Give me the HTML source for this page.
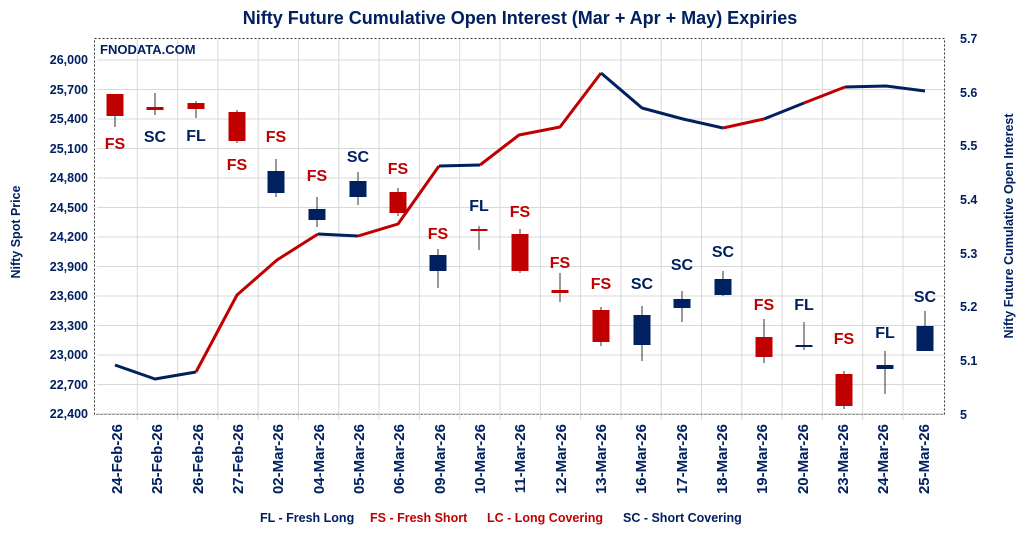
<!DOCTYPE html>
<html><head><style>body{margin:0;background:#fff}svg{display:block;font-family:"Liberation Sans",Calibri,sans-serif}</style></head><body>
<svg width="1024" height="534" xmlns="http://www.w3.org/2000/svg">
<rect width="1024" height="534" fill="#fff"/>
<text x="520" y="24" text-anchor="middle" font-size="18" font-weight="bold" fill="#002060">Nifty Future Cumulative Open Interest (Mar + Apr + May) Expiries</text>
<g stroke="#d9d9d9" stroke-width="1">
<line x1="97" y1="60" x2="944" y2="60"/><line x1="97" y1="89.5" x2="944" y2="89.5"/><line x1="97" y1="119" x2="944" y2="119"/><line x1="97" y1="148.5" x2="944" y2="148.5"/><line x1="97" y1="178" x2="944" y2="178"/><line x1="97" y1="207.5" x2="944" y2="207.5"/><line x1="97" y1="237" x2="944" y2="237"/><line x1="97" y1="266.5" x2="944" y2="266.5"/><line x1="97" y1="296" x2="944" y2="296"/><line x1="97" y1="325.5" x2="944" y2="325.5"/><line x1="97" y1="355" x2="944" y2="355"/><line x1="97" y1="384.5" x2="944" y2="384.5"/>
<line x1="137.3" y1="38" x2="137.3" y2="420"/><line x1="177.6" y1="38" x2="177.6" y2="420"/><line x1="217.9" y1="38" x2="217.9" y2="420"/><line x1="258.2" y1="38" x2="258.2" y2="420"/><line x1="298.5" y1="38" x2="298.5" y2="420"/><line x1="338.8" y1="38" x2="338.8" y2="420"/><line x1="379.1" y1="38" x2="379.1" y2="420"/><line x1="419.4" y1="38" x2="419.4" y2="420"/><line x1="459.7" y1="38" x2="459.7" y2="420"/><line x1="500" y1="38" x2="500" y2="420"/><line x1="540.3" y1="38" x2="540.3" y2="420"/><line x1="580.6" y1="38" x2="580.6" y2="420"/><line x1="620.9" y1="38" x2="620.9" y2="420"/><line x1="661.2" y1="38" x2="661.2" y2="420"/><line x1="701.5" y1="38" x2="701.5" y2="420"/><line x1="741.8" y1="38" x2="741.8" y2="420"/><line x1="782.1" y1="38" x2="782.1" y2="420"/><line x1="822.4" y1="38" x2="822.4" y2="420"/><line x1="862.7" y1="38" x2="862.7" y2="420"/><line x1="903" y1="38" x2="903" y2="420"/>
</g>
<rect x="94.5" y="38.5" width="850" height="376" fill="none" stroke="#333" stroke-dasharray="2,2" stroke-width="1"/>
<line x1="97" y1="414" x2="944" y2="414" stroke="#bfbfbf"/>
<text x="100" y="54" font-size="13" font-weight="bold" fill="#002060">FNODATA.COM</text>
<g font-size="12.5" font-weight="bold" fill="#002060" text-anchor="end">
<text x="88" y="64">26,000</text><text x="88" y="94">25,700</text><text x="88" y="123">25,400</text><text x="88" y="153">25,100</text><text x="88" y="182">24,800</text><text x="88" y="212">24,500</text><text x="88" y="241">24,200</text><text x="88" y="271">23,900</text><text x="88" y="300">23,600</text><text x="88" y="330">23,300</text><text x="88" y="359">23,000</text><text x="88" y="389">22,700</text><text x="88" y="418">22,400</text>
</g>
<g font-size="12.5" font-weight="bold" fill="#002060">
<text x="960" y="43">5.7</text><text x="960" y="97">5.6</text><text x="960" y="150">5.5</text><text x="960" y="204">5.4</text><text x="960" y="258">5.3</text><text x="960" y="311">5.2</text><text x="960" y="365">5.1</text><text x="960" y="419">5</text>
</g>
<text transform="translate(20,232) rotate(-90)" text-anchor="middle" font-size="12.5" font-weight="bold" fill="#002060">Nifty Spot Price</text>
<text transform="translate(1013,226) rotate(-90)" text-anchor="middle" font-size="12.5" font-weight="bold" fill="#002060">Nifty Future Cumulative Open Interest</text>
<g font-size="15" font-weight="bold" fill="#002060" text-anchor="end">
<text transform="translate(122,424) rotate(-90)">24-Feb-26</text><text transform="translate(162,424) rotate(-90)">25-Feb-26</text><text transform="translate(203,424) rotate(-90)">26-Feb-26</text><text transform="translate(243,424) rotate(-90)">27-Feb-26</text><text transform="translate(283,424) rotate(-90)">02-Mar-26</text><text transform="translate(324,424) rotate(-90)">04-Mar-26</text><text transform="translate(364,424) rotate(-90)">05-Mar-26</text><text transform="translate(404,424) rotate(-90)">06-Mar-26</text><text transform="translate(445,424) rotate(-90)">09-Mar-26</text><text transform="translate(485,424) rotate(-90)">10-Mar-26</text><text transform="translate(525,424) rotate(-90)">11-Mar-26</text><text transform="translate(566,424) rotate(-90)">12-Mar-26</text><text transform="translate(606,424) rotate(-90)">13-Mar-26</text><text transform="translate(646,424) rotate(-90)">16-Mar-26</text><text transform="translate(687,424) rotate(-90)">17-Mar-26</text><text transform="translate(727,424) rotate(-90)">18-Mar-26</text><text transform="translate(767,424) rotate(-90)">19-Mar-26</text><text transform="translate(808,424) rotate(-90)">20-Mar-26</text><text transform="translate(848,424) rotate(-90)">23-Mar-26</text><text transform="translate(888,424) rotate(-90)">24-Mar-26</text><text transform="translate(929,424) rotate(-90)">25-Mar-26</text>
</g>
<g stroke-width="3" fill="none" stroke-linejoin="round">
<polyline points="115,365 155,379 196,372" stroke="#002060"/>
<polyline points="196,372 237,295 277,260 318,234" stroke="#C00000"/>
<polyline points="318,234 358,236" stroke="#002060"/>
<polyline points="358,236 398,224 439,166" stroke="#C00000"/>
<polyline points="439,166 480,165" stroke="#002060"/>
<polyline points="480,165 519,135 560,127 601,73" stroke="#C00000"/>
<polyline points="601,73 642,108 683,119 723,128" stroke="#002060"/>
<polyline points="723,128 764,119" stroke="#C00000"/>
<polyline points="764,119 804,103" stroke="#002060"/>
<polyline points="804,103 845,87" stroke="#C00000"/>
<polyline points="845,87 886,86 925,91" stroke="#002060"/>
</g>
<g stroke="#333" stroke-width="1">
<line x1="115" y1="94" x2="115" y2="127"/><line x1="155" y1="93" x2="155" y2="115"/><line x1="196" y1="101" x2="196" y2="118"/><line x1="237" y1="110" x2="237" y2="143"/><line x1="276" y1="159" x2="276" y2="197"/><line x1="317" y1="197" x2="317" y2="227"/><line x1="358" y1="172" x2="358" y2="205"/><line x1="398" y1="188" x2="398" y2="216"/><line x1="438" y1="249" x2="438" y2="288"/><line x1="479" y1="226" x2="479" y2="250"/><line x1="520" y1="229" x2="520" y2="273"/><line x1="560" y1="273" x2="560" y2="302"/><line x1="601" y1="307" x2="601" y2="346"/><line x1="642" y1="306" x2="642" y2="361"/><line x1="682" y1="291" x2="682" y2="322"/><line x1="723" y1="271" x2="723" y2="296"/><line x1="764" y1="319" x2="764" y2="363"/><line x1="804" y1="322" x2="804" y2="350"/><line x1="844" y1="371" x2="844" y2="409"/><line x1="885" y1="351" x2="885" y2="394"/><line x1="925" y1="311" x2="925" y2="351"/>
</g>
<g fill="#C00000">
<rect x="106.5" y="94" width="17" height="22"/><rect x="146.5" y="107" width="17" height="3"/><rect x="187.5" y="103" width="17" height="6"/><rect x="228.5" y="112" width="17" height="29"/><rect x="389.5" y="192" width="17" height="21"/><rect x="470.5" y="229" width="17" height="2"/><rect x="511.5" y="234" width="17" height="37"/><rect x="551.5" y="290" width="17" height="3"/><rect x="592.5" y="310" width="17" height="32"/><rect x="755.5" y="337" width="17" height="20"/><rect x="835.5" y="374" width="17" height="32"/>
</g>
<g fill="#002060">
<rect x="267.5" y="171" width="17" height="22"/><rect x="308.5" y="209" width="17" height="11"/><rect x="349.5" y="181" width="17" height="16"/><rect x="429.5" y="255" width="17" height="16"/><rect x="633.5" y="315" width="17" height="30"/><rect x="673.5" y="299" width="17" height="9"/><rect x="714.5" y="279" width="17" height="16"/><rect x="795.5" y="345" width="17" height="2"/><rect x="876.5" y="365" width="17" height="4"/><rect x="916.5" y="326" width="17" height="25"/>
</g>
<g font-size="16" font-weight="bold" text-anchor="middle">
<text x="115" y="149" fill="#C00000">FS</text><text x="155" y="142" fill="#002060">SC</text><text x="196" y="141" fill="#002060">FL</text><text x="237" y="170" fill="#C00000">FS</text><text x="276" y="142" fill="#C00000">FS</text><text x="317" y="181" fill="#C00000">FS</text><text x="358" y="162" fill="#002060">SC</text><text x="398" y="174" fill="#C00000">FS</text><text x="438" y="239" fill="#C00000">FS</text><text x="479" y="211" fill="#002060">FL</text><text x="520" y="217" fill="#C00000">FS</text><text x="560" y="268" fill="#C00000">FS</text><text x="601" y="289" fill="#C00000">FS</text><text x="642" y="289" fill="#002060">SC</text><text x="682" y="270" fill="#002060">SC</text><text x="723" y="257" fill="#002060">SC</text><text x="764" y="310" fill="#C00000">FS</text><text x="804" y="310" fill="#002060">FL</text><text x="844" y="344" fill="#C00000">FS</text><text x="885" y="338" fill="#002060">FL</text><text x="925" y="302" fill="#002060">SC</text>
</g>
<g font-size="12.5" font-weight="bold">
<text x="260" y="522" fill="#002060">FL - Fresh Long</text>
<text x="370" y="522" fill="#C00000">FS - Fresh Short</text>
<text x="487" y="522" fill="#C00000">LC - Long Covering</text>
<text x="623" y="522" fill="#002060">SC - Short Covering</text>
</g>
</svg>
</body></html>
